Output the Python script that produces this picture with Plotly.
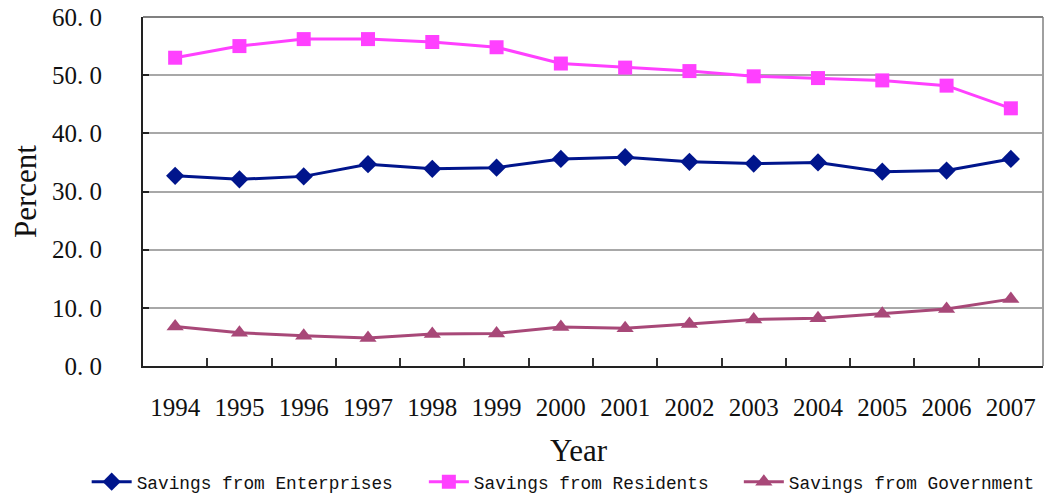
import plotly.graph_objects as go

years = ["1994", "1995", "1996", "1997", "1998", "1999", "2000",
         "2001", "2002", "2003", "2004", "2005", "2006", "2007"]
enterprises = [32.7, 32.1, 32.6, 34.7, 33.9, 34.1, 35.6,
               35.9, 35.1, 34.8, 35.0, 33.4, 33.6, 35.6]
residents = [53.0, 55.0, 56.2, 56.2, 55.7, 54.8, 52.0,
             51.3, 50.7, 49.8, 49.5, 49.1, 48.2, 44.3]
government = [6.8, 5.7, 5.2, 4.8, 5.5, 5.6, 6.7,
              6.5, 7.2, 8.0, 8.2, 9.0, 9.8, 11.5]
y_ticks = [0, 10, 20, 30, 40, 50, 60]
y_tick_text = ["0. 0", "10. 0", "20. 0", "30. 0", "40. 0", "50. 0", "60. 0"]

serif = "Liberation Serif, Times New Roman, serif"
mono = "Liberation Mono, DejaVu Sans Mono, monospace"

fig = go.Figure()
fig.add_trace(go.Scatter(
    x=years, y=enterprises, name="Savings from Enterprises", mode="lines+markers",
    line=dict(color="#00158C", width=3),
    marker=dict(symbol="diamond", size=14, color="#00158C"),
    legend="legend",
))
fig.add_trace(go.Scatter(
    x=years, y=residents, name="Savings from Residents", mode="lines+markers",
    line=dict(color="#FF40FF", width=3),
    marker=dict(symbol="square", size=14, color="#FF40FF"),
    legend="legend2",
))
fig.add_trace(go.Scatter(
    x=years, y=government, name="Savings from Government", mode="lines+markers",
    line=dict(color="#A84878", width=3),
    marker=dict(symbol="triangle-up", size=15, color="#A84878"),
    legend="legend3",
))

# one legend box per series so each entry sits where the key row needs it
legend_style = dict(
    orientation="h", xref="container", xanchor="left",
    yref="container", y=0.024, yanchor="middle",
    font=dict(family=mono, size=17.8, color="#111"),
    itemwidth=40, bgcolor="rgba(0,0,0,0)",
)

fig.update_layout(
    width=1057, height=494,
    margin=dict(l=143, r=14, t=17, b=128, autoexpand=False),
    paper_bgcolor="white", plot_bgcolor="white",
    showlegend=True,
    legend=dict(legend_style, x=0.082),
    legend2=dict(legend_style, x=0.401),
    legend3=dict(legend_style, x=0.699),
    xaxis=dict(
        type="category", range=[-0.5, 13.5], automargin=False,
        tickson="boundaries", ticks="inside", ticklen=8, tickcolor="#333",
        tickwidth=1.5,
        showline=True, linecolor="#222", linewidth=2, mirror=False,
        showgrid=False,
        tickfont=dict(family=serif, size=25, color="#111"),
        ticklabelstandoff=18,
    ),
    yaxis=dict(
        range=[0, 60], tickvals=y_ticks, ticktext=y_tick_text, automargin=False,
        ticks="inside", ticklen=6, tickcolor="#222", tickwidth=1.5,
        showline=True, linecolor="#222", linewidth=2,
        showgrid=True, gridcolor="#A8A8A8", gridwidth=1.5,
        tickfont=dict(family=serif, size=25, color="#111"),
        ticklabelstandoff=34,
        title=dict(text="Percent", font=dict(family=serif, size=31, color="#111"),
                   standoff=6),
        zeroline=False,
    ),
    annotations=[dict(
        text="Year", xref="paper", yref="paper", x=0.484, y=-0.241,
        xanchor="center", yanchor="middle", showarrow=False,
        font=dict(family=serif, size=31, color="#111"),
    )],
)

# right and top frame of the plotting area
fig.add_shape(type="line", xref="paper", yref="paper", x0=1, x1=1, y0=0, y1=1,
              line=dict(color="#A0A0A0", width=2))
fig.add_shape(type="line", xref="paper", yref="paper", x0=0, x1=1, y0=1, y1=1,
              line=dict(color="#808080", width=2))

fig.write_html("out.html")
